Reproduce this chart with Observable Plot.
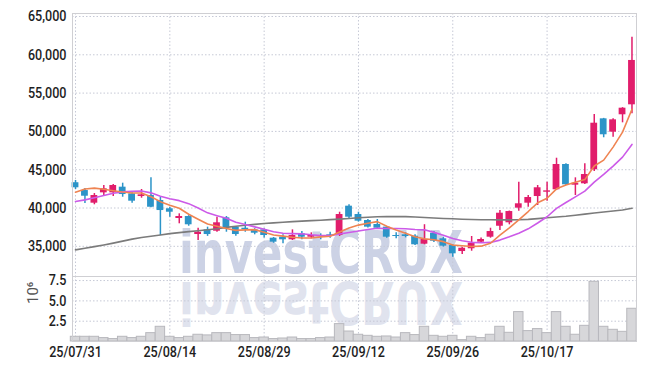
<!DOCTYPE html>
<html><head><meta charset="utf-8">
<script src="https://cdn.jsdelivr.net/npm/d3@7"></script>
<script src="https://cdn.jsdelivr.net/npm/@observablehq/plot@0.6"></script>
<style>
html,body{margin:0;padding:0;background:#fff;}
#wrap{position:relative;width:645px;height:369px;overflow:hidden;background:#fff;}
#wrap svg{position:absolute;left:0;}
</style></head><body><div id="wrap"></div>
<script>
const dates = ["25/07/31","25/08/01","25/08/04","25/08/05","25/08/06","25/08/07","25/08/08","25/08/11","25/08/12","25/08/13",
"25/08/14","25/08/18","25/08/19","25/08/20","25/08/21","25/08/22","25/08/25","25/08/26","25/08/27","25/08/28",
"25/08/29","25/09/01","25/09/02","25/09/03","25/09/04","25/09/05","25/09/08","25/09/09","25/09/10","25/09/11",
"25/09/12","25/09/15","25/09/16","25/09/17","25/09/18","25/09/19","25/09/22","25/09/23","25/09/24","25/09/25",
"25/09/26","25/09/29","25/09/30","25/10/01","25/10/02","25/10/10","25/10/13","25/10/14","25/10/15","25/10/16",
"25/10/17","25/10/20","25/10/21","25/10/22","25/10/23","25/10/24","25/10/27","25/10/28","25/10/29","25/10/30"];
const open = [43300,42280,40630,41980,41980,42720,41850,41500,41630,40980,39900,38630,38890,36540,37150,36970,38720,37500,37360,37150,
37150,36060,36190,35850,36630,36190,36410,36500,36410,40240,39150,38370,37850,37500,36410,36500,36320,35280,36710,35980,
35100,34320,34680,35540,36190,37620,38070,39980,40630,41500,42060,42380,45680,42980,43160,44990,51640,49900,52170,53470];
const high = [43600,42550,41890,42940,43070,43240,42000,42420,43940,41410,40070,39240,39000,37360,37500,38800,38890,37600,38150,37300,
37300,36150,36500,37150,36930,36760,36630,36840,39450,40420,39450,38500,38500,37600,36760,36760,36500,37820,36930,36190,
35200,34880,36280,36100,37360,39670,39600,43370,41630,42940,43370,46500,45770,43940,45770,52210,51700,51640,53100,62300];
const low = [42420,40590,40420,41630,41500,41410,40630,41280,40040,36410,38800,37940,37620,35760,36300,36840,36840,36320,36840,36500,
36100,35400,35330,35760,35850,35980,35850,36060,36280,38500,38150,37400,37200,36060,35980,36100,35100,35200,35500,34900,
33580,33930,34360,35400,36060,37050,37800,39580,40110,40330,40890,42280,42940,41630,43070,44770,49170,49240,51120,52300];
const close = [42640,41540,41630,42510,42940,41760,40890,41720,40100,39670,39450,38890,37810,36840,36540,38070,37410,36540,37150,36710,
36410,35540,35850,36410,36190,36410,36280,36320,39150,38800,38280,37500,37360,36190,36280,36280,35200,35890,35670,35020,
34020,34750,35410,35890,36930,39320,39540,40550,41370,42640,42240,45680,43030,43240,44370,51070,49560,51510,53030,59260];
const volume = [580000,580000,580000,420000,300000,580000,420000,580000,1030000,1810000,580000,420000,580000,830000,750000,1030000,1030000,790000,790000,420000,
490000,300000,370000,490000,300000,300000,420000,490000,2140000,1230000,830000,700000,580000,620000,490000,1030000,790000,1810000,700000,580000,
700000,170000,580000,420000,830000,1810000,1070000,3620000,1280000,1530000,1030000,3620000,1810000,830000,1930000,7350000,1810000,1440000,1190000,4030000];
const ma5 = [42060,42480,42590,42440,42250,42080,41950,41960,41480,40830,40370,39970,39180,38530,37910,37630,37330,37080,37140,37180,
36840,36470,36330,36180,36080,36080,36230,36320,36870,37390,37770,38010,38220,37630,37120,36720,36260,35970,35860,35610,
35160,35070,34970,35020,35400,36460,37420,38450,39540,40680,41270,42500,42990,43370,43710,45480,46250,47950,49910,52890];
const ma10 = [40850,41060,41350,41630,41920,42100,42180,42220,41980,41540,41220,40960,40570,40010,39370,39000,38650,38130,37840,37540,
37240,36900,36710,36660,36630,36500,36400,36400,36600,36800,37000,37200,37350,37330,37330,37300,37200,37150,36820,36450,
36020,35720,35520,35470,35510,35810,36240,36710,37280,38040,38860,39960,40720,41450,42200,43370,44380,45470,46640,48300];
const ma60 = [34540,34750,34960,35180,35420,35680,35940,36140,36320,36480,36660,36790,36920,37040,37160,37300,37470,37610,37740,37860,
37970,38060,38140,38220,38290,38350,38410,38480,38550,38640,38720,38800,38850,38880,38890,38870,38820,38770,38700,38640,
38590,38540,38500,38470,38460,38450,38450,38460,38520,38620,38730,38830,38930,39060,39200,39340,39480,39600,39740,39960];
const priceTicks = [35000,40000,45000,50000,55000,60000,65000];
const volumeTicks = [2500000,5000000,7500000];
const dateTickIdx = [0,10,20,30,40,50];

const FONT = "Roboto,'Liberation Sans',Arial,sans-serif";
const WMFONT = "'DejaVu Sans Condensed','DejaVu Sans',sans-serif";
const RED = "#e11d6b", BLUE = "#2c94c8";
const GRID = {stroke: "#c6c9d6", strokeDasharray: "1.5 2", strokeWidth: 1};
const rows = dates.map((d, i) => ({i, date: d, o: open[i], h: high[i], l: low[i], c: close[i], v: volume[i],
  ma5: ma5[i], ma10: ma10[i], ma60: ma60[i]}));
const col = d => d.c >= d.o ? RED : BLUE;
const xDomain = [-0.32, 59.48];
const wrap = document.getElementById("wrap");

// watermark (behind the charts)
const wm = d3.create("svg").attr("width", 645).attr("height", 369).style("top", "0px");
wm.append("text").attr("x", 179).attr("y", 273).attr("textLength", 284).attr("lengthAdjust", "spacingAndGlyphs")
  .attr("font-size", 58).attr("font-weight", "bold").attr("font-family", WMFONT).attr("fill", "#ccd2e5").text("investCRUX");
wm.append("text").attr("x", 179).attr("y", 273).attr("textLength", 284).attr("lengthAdjust", "spacingAndGlyphs")
  .attr("transform", "translate(0,555) scale(1,-1)")
  .attr("font-size", 58).attr("font-weight", "bold").attr("font-family", WMFONT).attr("fill", "#e0e3ee").text("investCRUX");
wrap.appendChild(wm.node());

const price = Plot.plot({
  width: 645, height: 277, marginTop: 13, marginBottom: 1, marginLeft: 72, marginRight: 9,
  style: {background: "transparent", fontFamily: FONT, fontSize: "15px", fontWeight: 500, color: "#1e1e1e"},
  x: {domain: xDomain, axis: null},
  y: {domain: [31060, 65390], axis: null},
  marks: [
    Plot.ruleY(priceTicks, GRID),
    Plot.ruleX(dateTickIdx, GRID),
    Plot.axisY(priceTicks, {tickSize: 0, tickPadding: 6, tickFormat: d3.format(","), fill: "#1e1e1e", label: null}),
    Plot.ruleX(rows, {x: "i", y1: "l", y2: "h", stroke: col, strokeWidth: 1.5}),
    Plot.rect(rows, {x1: d => d.i - 0.36, x2: d => d.i + 0.36, y1: "o", y2: "c", fill: col}),
    Plot.line(rows, {x: "i", y: "ma60", stroke: "#7b7b7b", strokeWidth: 1.6}),
    Plot.line(rows, {x: "i", y: "ma10", stroke: "#cc5ae8", strokeWidth: 1.6}),
    Plot.line(rows, {x: "i", y: "ma5", stroke: "#ef8452", strokeWidth: 1.6}),
    Plot.frame({stroke: "#cfcfd3"})
  ]
});
price.style.top = "0px";
wrap.appendChild(price);

const vol = Plot.plot({
  width: 645, height: 103, marginTop: 10, marginBottom: 28, marginLeft: 72, marginRight: 9,
  style: {background: "transparent", fontFamily: FONT, fontSize: "15px", fontWeight: 500, color: "#1e1e1e"},
  x: {domain: xDomain, axis: null},
  y: {domain: [0, 8000000], axis: null},
  marks: [
    Plot.ruleY(volumeTicks, GRID),
    Plot.ruleX(dateTickIdx, GRID),
    Plot.rect(rows, {x1: d => d.i - 0.5, x2: d => d.i + 0.5, y1: 0, y2: "v", fill: "#d7d7da", stroke: "#b8b8bd", strokeWidth: 1}),
    Plot.axisY(volumeTicks, {tickSize: 0, tickPadding: 6, tickFormat: d => (d / 1e6).toFixed(1), fill: "#1e1e1e", label: null}),
    Plot.axisX(dateTickIdx, {tickSize: 0, tickPadding: 5, tickFormat: i => dates[i], fill: "#1e1e1e", label: null}),
    Plot.text(["10⁶"], {text: d => d, frameAnchor: "left", rotate: -90, dx: -39, dy: -5, fontSize: 15, fontWeight: "normal", fill: "#555"}),
    Plot.frame({stroke: "#cfcfd3"})
  ]
});
vol.style.top = "266px";
wrap.appendChild(vol);

// condense tick labels (the reference uses a narrow face)
for (const svg of [price, vol]) {
  svg.querySelectorAll("g[aria-label$='tick label'] text").forEach(t => {
    const w = t.getComputedTextLength();
    t.setAttribute("textLength", (w * 0.84).toFixed(1));
    t.setAttribute("lengthAdjust", "spacingAndGlyphs");
  });
}
</script></body></html>
